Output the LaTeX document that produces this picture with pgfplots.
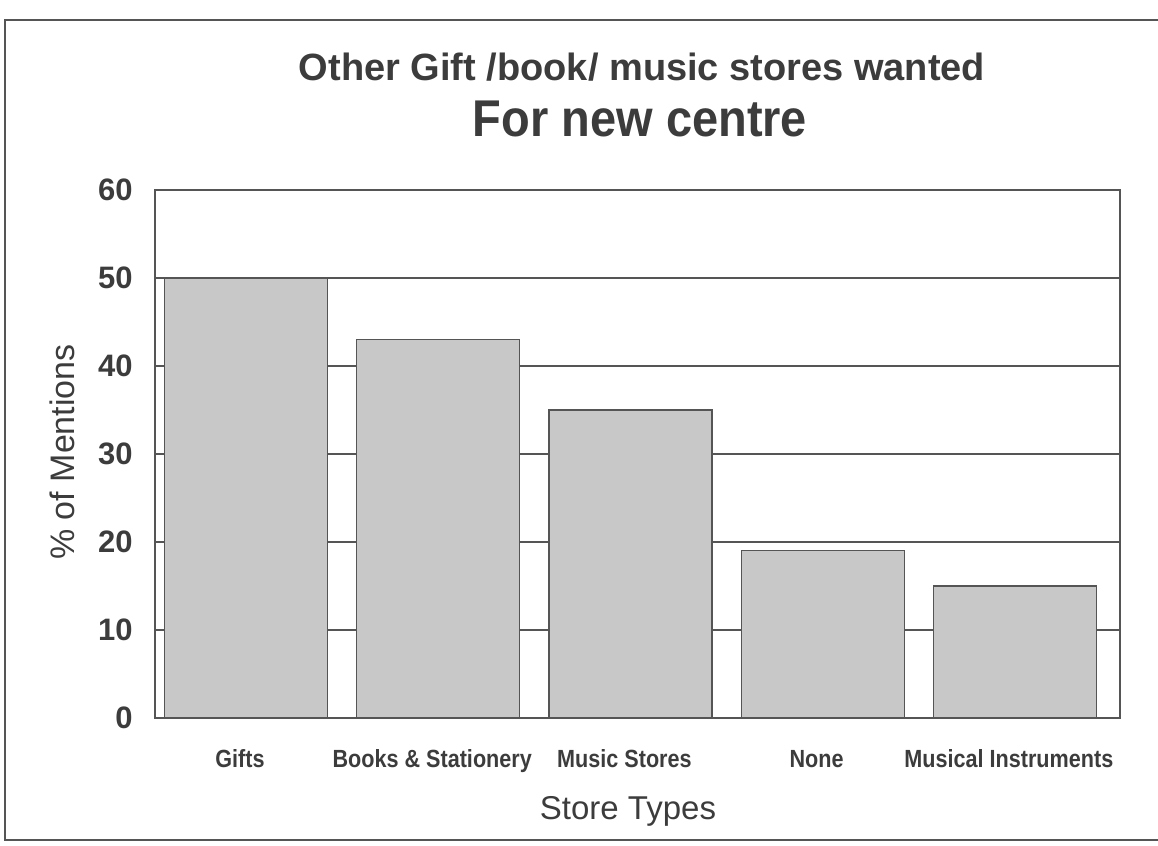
\documentclass[border=0pt]{standalone}
\usepackage{fontspec}
\setmainfont{Liberation Sans}
\usepackage{pgfplots}
\pgfplotsset{compat=1.18}
\definecolor{txt}{RGB}{60,60,60}
\definecolor{barfill}{RGB}{200,200,200}
\definecolor{gridc}{RGB}{85,85,85}
\begin{document}
\begin{tikzpicture}
\useasboundingbox (0,0) rectangle (579pt,423pt);
% outer frame (right edge runs off the page, as in the scan)
\draw[gridc, line width=0.6pt] (582pt,413pt) -- (2.5pt,413pt) -- (2.5pt,3pt) -- (582pt,3pt);
\begin{axis}[
  at={(77.5pt,64pt)}, anchor=south west,
  scale only axis, width=482.5pt, height=264pt,
  xmin=-0.4735, xmax=4.547, ymin=0, ymax=60,
  ytick={0,10,...,60},
  xtick={0,...,4},
  xticklabels={Gifts, Books \& Stationery, Music Stores, None, Musical Instruments},
  major tick length=0pt,
  ymajorgrids, grid style={gridc, line width=0.6pt},
  axis line style={gridc, line width=0.6pt},
  /pgf/number format/assume math mode=true,
  yticklabel style={font=\fontsize{15.5}{18}\selectfont\bfseries, text=txt, anchor=east, inner sep=0pt, xshift=-11pt},
  xticklabel style={font=\fontsize{10.8}{13}\selectfont\bfseries, text=txt, anchor=base, inner sep=0pt, yshift=-25pt, xshift=-3pt, yscale=1.15},
]
\addplot[ybar, bar width=81.5pt, fill=barfill, draw=gridc, line width=0.6pt]
  coordinates {(0,50) (1,43) (2,35) (3,19) (4,15)};
\end{axis}
% titles and axis labels
\node[anchor=base, text=txt, font=\fontsize{19}{22}\selectfont\bfseries] at (321pt,382.5pt) {Other Gift /book/ music stores wanted};
\node[anchor=base, text=txt, font=\fontsize{23.5}{27}\selectfont\bfseries, yscale=1.1] at (320pt,354.5pt) {For new centre};
\node[rotate=90, text=txt, font=\fontsize{17}{20}\selectfont] at (31pt,197pt) {\% of Mentions};
\node[anchor=base, text=txt, font=\fontsize{16.5}{20}\selectfont] at (314pt,13pt) {Store Types};
\end{tikzpicture}
\end{document}
